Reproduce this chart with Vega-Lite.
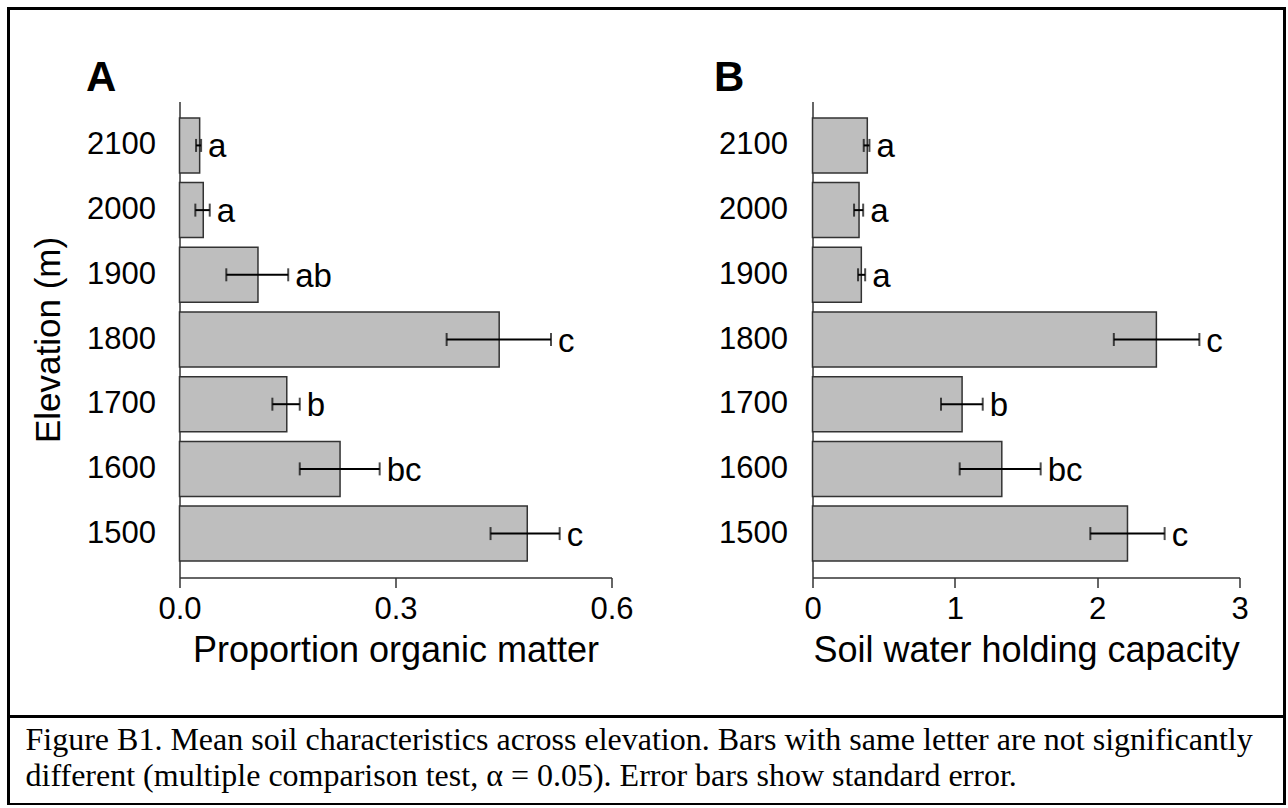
{
  "$schema": "https://vega.github.io/schema/vega-lite/v6.json",
  "background": "white",
  "padding": {"left": 6.5, "top": 8.5, "right": 2, "bottom": 0},
  "width": 1276,
  "height": 796,
  "datasets": {
    "A": [
      {"elev": "2100", "mean": 0.028, "lo": 0.023, "hi": 0.030, "letter": "a"},
      {"elev": "2000", "mean": 0.033, "lo": 0.022, "hi": 0.042, "letter": "a"},
      {"elev": "1900", "mean": 0.109, "lo": 0.065, "hi": 0.151, "letter": "ab"},
      {"elev": "1800", "mean": 0.444, "lo": 0.371, "hi": 0.516, "letter": "c"},
      {"elev": "1700", "mean": 0.149, "lo": 0.129, "hi": 0.167, "letter": "b"},
      {"elev": "1600", "mean": 0.223, "lo": 0.167, "hi": 0.278, "letter": "bc"},
      {"elev": "1500", "mean": 0.483, "lo": 0.432, "hi": 0.528, "letter": "c"}
    ],
    "B": [
      {"elev": "2100", "mean": 0.385, "lo": 0.360, "hi": 0.400, "letter": "a"},
      {"elev": "2000", "mean": 0.327, "lo": 0.292, "hi": 0.356, "letter": "a"},
      {"elev": "1900", "mean": 0.343, "lo": 0.320, "hi": 0.370, "letter": "a"},
      {"elev": "1800", "mean": 2.416, "lo": 2.117, "hi": 2.718, "letter": "c"},
      {"elev": "1700", "mean": 1.051, "lo": 0.903, "hi": 1.196, "letter": "b"},
      {"elev": "1600", "mean": 1.330, "lo": 1.034, "hi": 1.603, "letter": "bc"},
      {"elev": "1500", "mean": 2.213, "lo": 1.952, "hi": 2.474, "letter": "c"}
    ]
  },
  "config": {
    "view": {"stroke": "black", "strokeWidth": 3},
    "font": "Liberation Sans",
    "axis": {
      "labelFont": "Liberation Sans", "titleFont": "Liberation Sans",
      "labelColor": "black", "titleColor": "black",
      "domainColor": "#333333", "tickColor": "#333333",
      "grid": false, "titleFontWeight": "normal"
    }
  },
  "title": {
    "text": ["Figure B1. Mean soil characteristics across elevation. Bars with same letter are not significantly", "different (multiple comparison test, α = 0.05). Error bars show standard error."],
    "orient": "bottom", "anchor": "start", "frame": "group", "offset": -80, "dx": 17,
    "font": "Liberation Serif", "fontSize": 32, "fontWeight": "normal", "color": "black", "lineHeight": 36
  },
  "layer": [
    {
      "data": {"name": "A"},
      "resolve": {"axis": {"x": "independent"}},
      "layer": [
        {
          "mark": {"type": "bar", "fill": "#bebebe", "stroke": "#333333", "strokeWidth": 1.5},
          "encoding": {
            "y": {"field": "elev", "type": "nominal",
                  "scale": {"type": "band", "domain": ["2100","2000","1900","1800","1700","1600","1500"], "range": [93, 569], "paddingInner": 0.15, "paddingOuter": 0.254},
                  "axis": {"orient": "left", "offset": -171, "ticks": false, "tickSize": 0, "domainWidth": 1.5, "labelFontSize": 31, "labelPadding": 24, "title": "Elevation (m)", "titleFontSize": 35, "titlePadding": 20}},
            "x": {"field": "mean", "type": "quantitative",
                  "scale": {"domain": [0, 0.6], "range": [171, 603], "nice": false, "zero": true},
                  "axis": {"orient": "bottom", "offset": -227, "values": [0, 0.3, 0.6], "format": ".1f", "tickSize": 10, "tickWidth": 1.5, "domainWidth": 1.5, "labelFontSize": 31, "labelPadding": 7, "labelFlush": false, "labelOverlap": false, "title": "Proportion organic matter", "titleFontSize": 36, "titlePadding": 9}}
          }
        },
        {
          "mark": {"type": "rule", "color": "black", "strokeWidth": 2},
          "encoding": {
            "y": {"field": "elev", "type": "nominal"},
            "x": {"field": "lo", "type": "quantitative",
                  "axis": {"orient": "top", "offset": 0, "domain": false, "ticks": false, "labels": false, "title": "A", "titleFontWeight": "bold", "titleFontSize": 42, "titleAlign": "left", "titleAnchor": "start", "titleX": 77, "titleY": 82, "titleBaseline": "alphabetic"}},
            "x2": {"field": "hi"}
          }
        },
        {
          "mark": {"type": "tick", "color": "black", "thickness": 2, "size": 13},
          "encoding": {
            "y": {"field": "elev", "type": "nominal"},
            "x": {"field": "lo", "type": "quantitative", "axis": null}
          }
        },
        {
          "mark": {"type": "tick", "color": "black", "thickness": 2, "size": 13},
          "encoding": {
            "y": {"field": "elev", "type": "nominal"},
            "x": {"field": "hi", "type": "quantitative", "axis": null}
          }
        },
        {
          "mark": {"type": "text", "align": "left", "baseline": "middle", "dx": 7, "dy": 2, "fontSize": 33, "color": "black", "font": "Liberation Sans"},
          "encoding": {
            "y": {"field": "elev", "type": "nominal"},
            "x": {"field": "hi", "type": "quantitative", "axis": null},
            "text": {"field": "letter"}
          }
        }
      ]
    },
    {
      "data": {"name": "B"},
      "resolve": {"axis": {"x": "independent"}},
      "layer": [
        {
          "mark": {"type": "bar", "fill": "#bebebe", "stroke": "#333333", "strokeWidth": 1.5},
          "encoding": {
            "y": {"field": "elev", "type": "nominal",
                  "scale": {"type": "band", "domain": ["2100","2000","1900","1800","1700","1600","1500"], "range": [93, 569], "paddingInner": 0.15, "paddingOuter": 0.254},
                  "axis": {"orient": "left", "offset": -804, "ticks": false, "tickSize": 0, "domainWidth": 1.5, "labelFontSize": 31, "labelPadding": 25, "title": null}},
            "x": {"field": "mean", "type": "quantitative",
                  "scale": {"domain": [0, 3], "range": [804, 1231], "nice": false, "zero": true},
                  "axis": {"orient": "bottom", "offset": -227, "values": [0, 1, 2, 3], "format": "d", "tickSize": 10, "tickWidth": 1.5, "domainWidth": 1.5, "labelFontSize": 31, "labelPadding": 7, "labelFlush": false, "labelOverlap": false, "title": "Soil water holding capacity", "titleFontSize": 36, "titlePadding": 9}}
          }
        },
        {
          "mark": {"type": "rule", "color": "black", "strokeWidth": 2},
          "encoding": {
            "y": {"field": "elev", "type": "nominal"},
            "x": {"field": "lo", "type": "quantitative",
                  "axis": {"orient": "top", "offset": 0, "domain": false, "ticks": false, "labels": false, "title": "B", "titleFontWeight": "bold", "titleFontSize": 42, "titleAlign": "left", "titleAnchor": "start", "titleX": 705, "titleY": 82, "titleBaseline": "alphabetic"}},
            "x2": {"field": "hi"}
          }
        },
        {
          "mark": {"type": "tick", "color": "black", "thickness": 2, "size": 13},
          "encoding": {
            "y": {"field": "elev", "type": "nominal"},
            "x": {"field": "lo", "type": "quantitative", "axis": null}
          }
        },
        {
          "mark": {"type": "tick", "color": "black", "thickness": 2, "size": 13},
          "encoding": {
            "y": {"field": "elev", "type": "nominal"},
            "x": {"field": "hi", "type": "quantitative", "axis": null}
          }
        },
        {
          "mark": {"type": "text", "align": "left", "baseline": "middle", "dx": 7, "dy": 2, "fontSize": 33, "color": "black", "font": "Liberation Sans"},
          "encoding": {
            "y": {"field": "elev", "type": "nominal"},
            "x": {"field": "hi", "type": "quantitative", "axis": null},
            "text": {"field": "letter"}
          }
        }
      ]
    },
    {
      "data": {"values": [{}]},
      "mark": {"type": "rule", "color": "black", "strokeWidth": 3},
      "encoding": {
        "y": {"datum": 0, "type": "quantitative", "scale": {"domain": [0, 1], "range": [708, 0]}, "axis": null}
      }
    }
  ],
  "resolve": {"scale": {"x": "independent", "y": "independent"}, "axis": {"x": "independent", "y": "independent"}}
}
